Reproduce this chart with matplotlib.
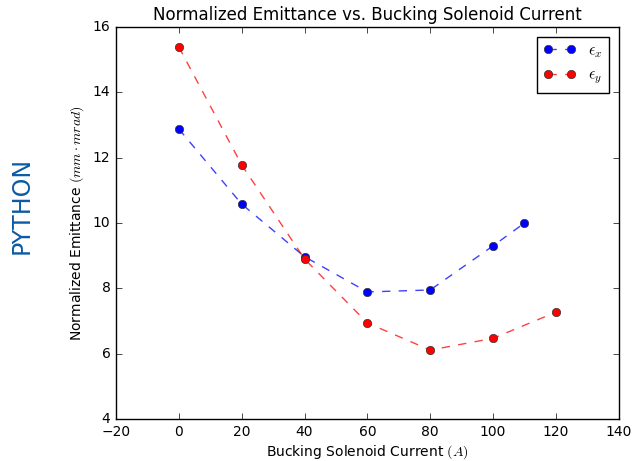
import matplotlib
matplotlib.use('Agg')
import matplotlib.pyplot as plt

# bucking solenoid current [A] and normalized emittance [mm mrad]
current_x = [0, 20, 40, 60, 80, 100, 110]
emit_x = [12.88, 10.58, 8.97, 7.89, 7.95, 9.30, 10.0]
current_y = [0, 20, 40, 60, 80, 100, 120]
emit_y = [15.39, 11.78, 8.90, 6.94, 6.11, 6.47, 7.27]

plt.style.use('classic')
plt.rcParams['font.size'] = 10
plt.rcParams['axes.titlesize'] = 12
plt.rcParams['axes.labelsize'] = 10
plt.rcParams['xtick.labelsize'] = 10
plt.rcParams['ytick.labelsize'] = 10
plt.rcParams['legend.fontsize'] = 11.5
plt.rcParams['lines.markersize'] = 6

fig = plt.figure(figsize=(6.32, 4.61), dpi=100, facecolor='white')
ax = fig.add_axes([0.1835, 0.0911, 0.7955, 0.8503])

ax.plot(current_x, emit_x, 'o--', color=(0, 0, 1, 0.75), markerfacecolor='b',
        markeredgecolor=(0.2, 0.2, 0.2), label=r'$\epsilon_x$')
ax.plot(current_y, emit_y, 'o--', color=(1, 0, 0, 0.75), markerfacecolor='r',
        markeredgecolor=(0.2, 0.2, 0.2), label=r'$\epsilon_y$')

ax.set_xlim(-20, 140)
ax.set_ylim(4, 16)
ax.set_title('Normalized Emittance vs. Bucking Solenoid Current')
ax.set_xlabel(r'Bucking Solenoid Current $(A)$', labelpad=3)
ax.set_ylabel(r'Normalized Emittance $(mm \cdot mrad)$')
ax.legend(loc='upper right', numpoints=2, borderaxespad=0.6)

fig.text(0.035, 0.555, 'PYTHON', rotation=90, color='#0b5aa6', fontsize=17,
         ha='center', va='center')

fig.savefig('out.png', dpi=100, facecolor='white')
